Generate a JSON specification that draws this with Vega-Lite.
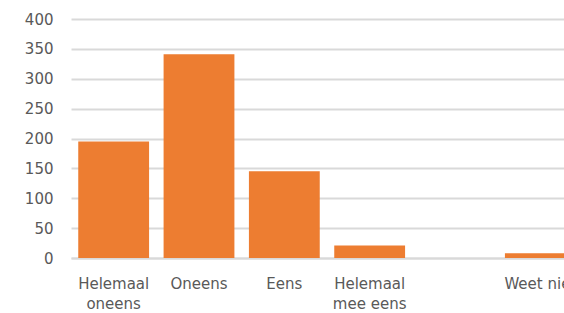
{
  "$schema": "https://vega.github.io/schema/vega-lite/v6.json",
  "autosize": "none",
  "width": 493,
  "height": 239,
  "padding": {"left": 71, "top": 19, "right": 0, "bottom": 55},
  "background": "white",
  "config": {"view": {"stroke": null}},
  "data": {"values": [
    {"cat": "Helemaal oneens", "n": 195},
    {"cat": "Oneens", "n": 341},
    {"cat": "Eens", "n": 145},
    {"cat": "Helemaal mee eens", "n": 21},
    {"cat": " ", "n": 0},
    {"cat": "Weet niet", "n": 8}
  ]},
  "mark": {"type": "bar", "color": "#ED7D31"},
  "encoding": {
    "x": {
      "field": "cat", "type": "nominal", "sort": null,
      "scale": {"range": [0, 512], "paddingInner": 0.17, "paddingOuter": 0.085},
      "axis": {
        "title": null, "labelAngle": 0, "ticks": false, "tickSize": 0,
        "domainColor": "#D9D9D9", "domainWidth": 2,
        "labelFont": "DejaVu Sans", "labelFontSize": 15, "labelColor": "#595959",
        "labelPadding": 18, "labelLineHeight": 20,
        "labelExpr": "indexof(datum.label, 'Helemaal ') == 0 ? ['Helemaal', substring(datum.label, 9)] : datum.label"
      }
    },
    "y": {
      "field": "n", "type": "quantitative",
      "scale": {"domain": [0, 400], "nice": false},
      "axis": {
        "title": null, "values": [0, 50, 100, 150, 200, 250, 300, 350, 400],
        "ticks": false, "tickSize": 0, "domain": false,
        "gridColor": "#D9D9D9", "gridWidth": 2,
        "labelFont": "DejaVu Sans", "labelFontSize": 15, "labelColor": "#595959",
        "labelPadding": 18
      }
    }
  }
}
